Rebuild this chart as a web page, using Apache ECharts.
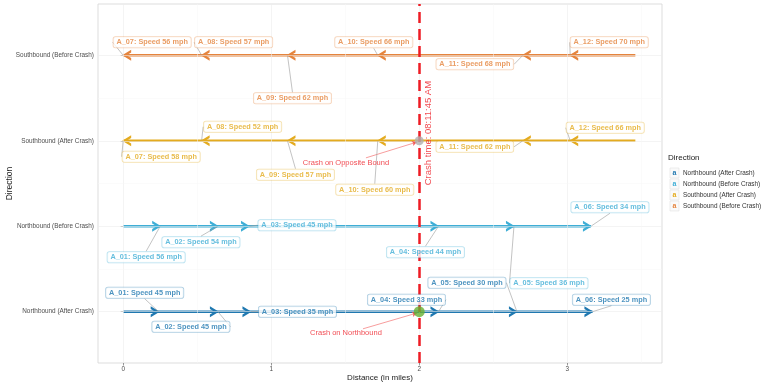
<!DOCTYPE html>
<html><head><meta charset="utf-8">
<script src="https://cdn.jsdelivr.net/npm/echarts@6/dist/echarts.min.js"></script>
<style>html,body{margin:0;padding:0;background:#fff}#c{width:762px;height:386px}</style>
</head><body><div id="c"></div>
<script>
// ---------- data ----------
const directions = ['Northbound (After Crash)', 'Northbound (Before Crash)', 'Southbound (After Crash)', 'Southbound (Before Crash)'];
const xTicks = [0, 1, 2, 3];
// path positions in miles: first value is the start of the path, the rest are sensor arrows
const nbAfterX  = [0, 0.24, 0.64, 0.86, 2.13, 2.66, 3.17];
const nbBeforeX = [0, 0.25, 0.64, 0.85, 2.13, 2.64, 3.16];
const sbAfterX  = [3.46, 3.02, 2.70, 1.72, 1.11, 0.53, 0];
const sbBeforeX = [3.46, 3.02, 2.70, 1.72, 1.11, 0.53, 0];
const nbSensors = ['A_01', 'A_02', 'A_03', 'A_04', 'A_05', 'A_06'];
const sbSensors = ['A_12', 'A_11', 'A_10', 'A_09', 'A_08', 'A_07'];
const nbAfterSpeed  = [45, 45, 35, 33, 30, 25];
const nbBeforeSpeed = [56, 54, 45, 44, 36, 34];
const sbAfterSpeed  = [66, 62, 60, 57, 52, 58];
const sbBeforeSpeed = [70, 68, 66, 62, 57, 56];
const crashX = 2;
const crashTimeText = 'Crash time: 08:11:45 AM';
const crashNorthText = 'Crash on Northbound';
const crashOppText = 'Crash on Opposite Bound';

// ---------- styling / placement (not data) ----------
const colors = ['#1f78b0', '#3eaed6', '#e4ab1f', '#e5843d'];
const borderColors = ['rgba(31,120,176,0.45)', 'rgba(62,174,214,0.45)', 'rgba(228,171,31,0.45)', 'rgba(229,132,61,0.45)'];
const offNbAfter  = [[-14, -19], [-27, 15], [47, 0], [-32, -12], [-50, -29], [19, -12]];
const offNbBefore = [[-14, 31], [-17, 16], [48, -1], [-13, 26], [35, 57], [19, -19]];
const offSbAfter  = [[35, -13], [-48, 6], [-3, 49], [8, 34], [41, -14], [38, 16]];
const offSbBefore = [[39, -13], [-48, 9], [-4, -13], [5, 43], [32, -13], [29, -13]];
const FONT = 'Liberation Sans, Arial, sans-serif';
const RIGHT = 'path://M0,0 L10,6 L0,12 L0,9 L5,6 L0,3 Z';
const LEFT  = 'path://M10,0 L0,6 L10,12 L10,9 L5,6 L10,3 Z';

function arrowSeries(xs, yv, color, dir) {
  return {
    type: 'line', silent: true, z: 3, animation: false,
    data: xs.map((x, i) => i === 0 ? { value: [x, yv], symbol: 'none' } : [x, yv]),
    symbol: dir > 0 ? RIGHT : LEFT, symbolSize: [9, 11], symbolOffset: [dir > 0 ? -3.5 : 3.5, 0],
    showSymbol: true,
    lineStyle: { color: color, width: 2.5 },
    itemStyle: { color: color, borderWidth: 0 }
  };
}
function labelSeries(xs, yv, idx, sensors, speeds, offs) {
  return {
    type: 'scatter', silent: true, z: 5, animation: false,
    data: xs.slice(1).map(x => [x, yv]),
    symbolSize: 1, itemStyle: { color: 'rgba(0,0,0,0)' },
    label: {
      show: true, position: 'inside',
      formatter: p => sensors[p.dataIndex] + ': Speed ' + speeds[p.dataIndex] + ' mph',
      fontFamily: FONT, fontSize: 7.3, fontWeight: 'bold', color: colors[idx],
      backgroundColor: '#fff', borderColor: borderColors[idx], borderWidth: 0.8, borderRadius: 2,
      padding: [2, 3, 1.5, 3]
    },
    labelLayout: p => ({ dx: offs[p.dataIndex][0], dy: offs[p.dataIndex][1] }),
    labelLine: { show: true, lineStyle: { color: '#9a9a9a', width: 0.6 } }
  };
}

const gridMajor = [];
xTicks.forEach(v => gridMajor.push({ xAxis: v }));
[1, 2, 3, 4].forEach(v => gridMajor.push({ yAxis: v }));
const gridMinor = [];
[0.5, 1.5, 2.5, 3.5].forEach(v => gridMinor.push({ xAxis: v }));
[1.5, 2.5, 3.5].forEach(v => gridMinor.push({ yAxis: v }));

const legendGraphics = [{ type: 'text', left: 668, top: 154, style: { text: 'Direction', font: '8px ' + FONT, fill: '#222' } }];
directions.forEach((d, i) => {
  const y = 168 + i * 11;
  legendGraphics.push({ type: 'rect', shape: { x: 670, y: y, width: 9, height: 10 }, style: { fill: '#fafafa', stroke: '#e2e2e2', lineWidth: 0.6 } });
  legendGraphics.push({ type: 'text', x: 674.5, y: y + 5, style: { text: 'a', font: 'bold 7px ' + FONT, fill: colors[i], align: 'center', verticalAlign: 'middle' } });
  legendGraphics.push({ type: 'text', x: 683, y: y + 5, style: { text: d, font: '6.4px ' + FONT, fill: '#333', verticalAlign: 'middle' } });
});

const chart = echarts.init(document.getElementById('c'), null, { renderer: 'canvas' });
chart.setOption({
  animation: false,
  backgroundColor: '#fff',
  grid: { left: 98, right: 100, top: 4, bottom: 23, containLabel: false, outerBoundsMode: 'none',
    show: true, borderColor: '#d4d4d4', borderWidth: 0.8, backgroundColor: '#fff' },
  xAxis: {
    type: 'value', min: -0.17, max: 3.64,
    name: 'Distance (in miles)', nameLocation: 'middle', nameGap: 11, nameMoveOverlap: false,
    nameTextStyle: { fontFamily: FONT, fontSize: 8, color: '#222' },
    axisLine: { show: false },
    axisTick: { show: true, customValues: xTicks, length: 2.5, lineStyle: { color: '#555', width: 0.6 } },
    axisLabel: { customValues: xTicks, fontFamily: FONT, fontSize: 6.4, color: '#4d4d4d', margin: 3.5 },
    splitLine: { show: false }
  },
  yAxis: {
    type: 'value', min: 0.4, max: 4.6,
    name: 'Direction', nameLocation: 'middle', nameGap: 84, nameMoveOverlap: false,
    nameTextStyle: { fontFamily: FONT, fontSize: 8.5, color: '#222' },
    axisLine: { show: false },
    axisTick: { show: true, customValues: [1, 2, 3, 4], length: 2.5, lineStyle: { color: '#555', width: 0.6 } },
    axisLabel: { customValues: [1, 2, 3, 4], formatter: v => directions[Math.round(v) - 1], fontFamily: FONT, fontSize: 6.4, color: '#4d4d4d', margin: 4 },
    splitLine: { show: false }
  },
  graphic: legendGraphics,
  series: [
    { type: 'line', data: [], silent: true, z: 1,
      markLine: { silent: true, symbol: 'none', label: { show: false }, animation: false,
        lineStyle: { color: '#ededed', width: 0.6, type: 'solid' }, data: gridMajor } },
    { type: 'line', data: [], silent: true, z: 1,
      markLine: { silent: true, symbol: 'none', label: { show: false }, animation: false,
        lineStyle: { color: '#f7f7f7', width: 0.5, type: 'solid' }, data: gridMinor } },
    arrowSeries(nbAfterX, 1, colors[0], 1),
    arrowSeries(nbBeforeX, 2, colors[1], 1),
    arrowSeries(sbAfterX, 3, colors[2], -1),
    arrowSeries(sbBeforeX, 4, colors[3], -1),
    labelSeries(nbAfterX, 1, 0, nbSensors, nbAfterSpeed, offNbAfter),
    labelSeries(nbBeforeX, 2, 1, nbSensors, nbBeforeSpeed, offNbBefore),
    labelSeries(sbAfterX, 3, 2, sbSensors, sbAfterSpeed, offSbAfter),
    labelSeries(sbBeforeX, 4, 3, sbSensors, sbBeforeSpeed, offSbBefore),
    // crash line and annotations
    { type: 'line', data: [], silent: true, z: 10,
      markLine: { silent: true, symbol: 'none', label: { show: false }, animation: false,
        lineStyle: { color: '#ee1c24', width: 2.5, type: [11, 6] }, data: [{ xAxis: crashX }] } },
    { type: 'line', data: [], silent: true, z: 10,
      markLine: { silent: true, symbol: ['none', 'arrow'], symbolSize: [4, 5], label: { show: false }, animation: false,
        lineStyle: { color: '#f25a5a', width: 0.6, type: 'solid' },
        data: [
          [{ coord: [1.62, 0.80] }, { coord: [1.985, 0.985] }],
          [{ coord: [1.64, 2.80] }, { coord: [1.985, 2.985] }]
        ] } },
    { type: 'scatter', silent: true, z: 11, symbolSize: 1, itemStyle: { color: 'rgba(0,0,0,0)' },
      data: [
        { value: [1.505, 0.75], label: { formatter: crashNorthText } },
        { value: [1.505, 2.74], label: { formatter: crashOppText } },
        { value: [2.06, 3.09], label: { formatter: crashTimeText, rotate: 90, fontSize: 9.5 } }
      ],
      label: { show: true, position: 'inside', fontFamily: FONT, fontSize: 7.5, color: '#ee1c24' } },
    { type: 'scatter', silent: true, z: 12, symbol: 'circle',
      data: [
        { value: [crashX, 1], symbolSize: 11, itemStyle: { color: '#66b032' } },
        { value: [crashX, 3], symbolSize: 9, itemStyle: { color: '#b0b0b0' } }
      ] }
  ]
});
</script></body></html>
